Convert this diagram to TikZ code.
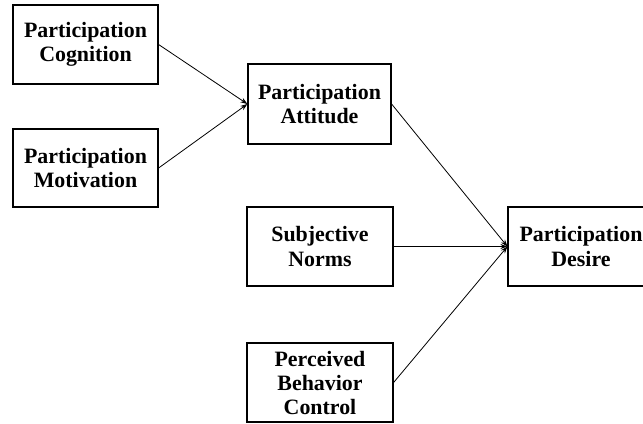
\documentclass[tikz,border=0pt]{standalone}
\usepackage{fontspec}
\setmainfont{Liberation Serif}
\usetikzlibrary{arrows.meta}
\begin{document}
\begin{tikzpicture}[x=1bp,y=-1bp,
  box/.style={draw,line width=1.2bp,rectangle,inner sep=0pt,align=center,
    font=\bfseries\fontsize{21.9bp}{24bp}\selectfont},
  link/.style={line width=0.8bp,-{Stealth[length=7bp,width=5bp]}}]
\useasboundingbox (0,0) rectangle (643,423);
\node[box,minimum width=145bp,minimum height=79bp] (cog) at (85.5,44.5) {Participation\\Cognition};
\node[box,minimum width=145bp,minimum height=78bp] (mot) at (85.5,168) {Participation\\Motivation};
\node[box,minimum width=143bp,minimum height=80bp] (att) at (319.5,104) {Participation\\Attitude};
\node[box,minimum width=146bp,minimum height=79bp] (sub) at (320,246.5) {Subjective\\Norms};
\node[box,minimum width=146bp,minimum height=79bp] (per) at (320,382.5) {Perceived\\Behavior\\Control};
\node[box,minimum width=146bp,minimum height=79bp] (des) at (581,246.5) {Participation\\Desire};
\draw[link] (cog.east) -- (att.west);
\draw[link] (mot.east) -- (att.west);
\draw[link] (att.east) -- (des.west);
\draw[link] (sub.east) -- (des.west);
\draw[link] (per.east) -- (des.west);
\end{tikzpicture}
\end{document}
